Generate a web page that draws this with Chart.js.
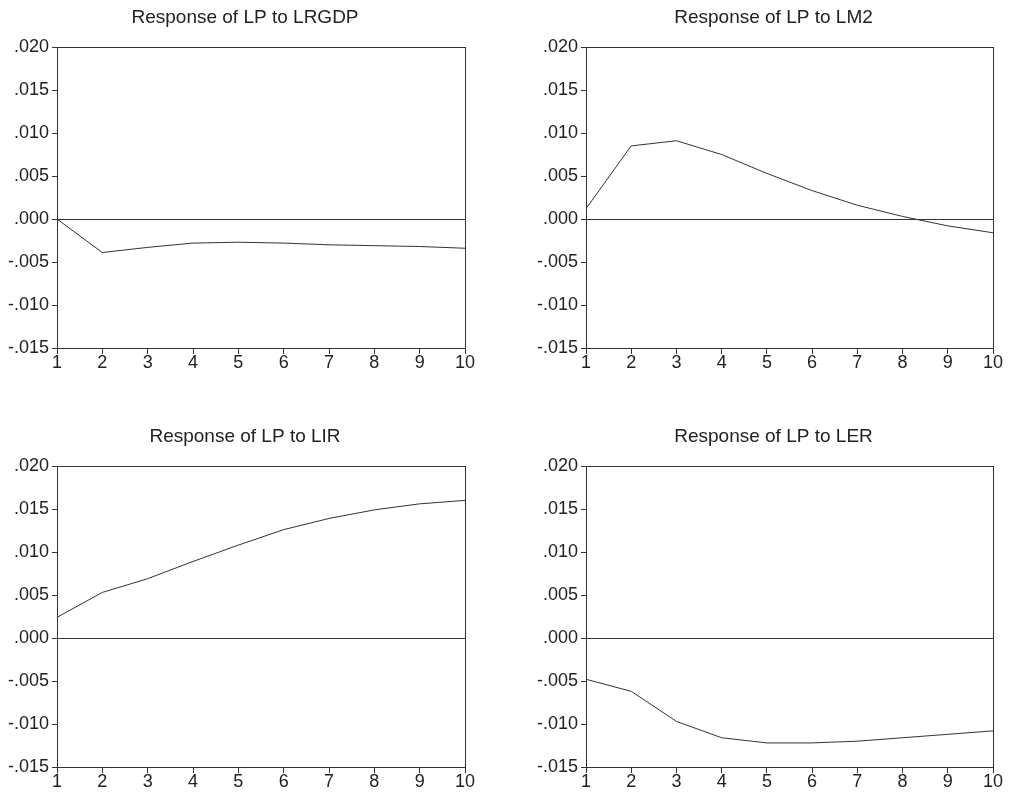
<!DOCTYPE html>
<html>
<head>
<meta charset="utf-8">
<script src="https://cdn.jsdelivr.net/npm/chart.js@4/dist/chart.umd.min.js"></script>
<style>
  html, body { margin: 0; padding: 0; background: #fff; overflow: hidden; }
  canvas { position: absolute; }
  #c1 { left: 0; top: 0; }
  #c2 { left: 529px; top: 0; }
  #c3 { left: 0; top: 419px; }
  #c4 { left: 529px; top: 419px; }
</style>
</head>
<body>
<canvas id="c1" width="488" height="374"></canvas>
<canvas id="c2" width="484" height="374"></canvas>
<canvas id="c3" width="488" height="374"></canvas>
<canvas id="c4" width="484" height="374"></canvas>
<script>
// periods of the impulse response
const periods = ['1', '2', '3', '4', '5', '6', '7', '8', '9', '10'];

// responses of LP
const toLRGDP = [0.0000, -0.0039, -0.0033, -0.0028, -0.0027, -0.0028, -0.0030, -0.0031, -0.0032, -0.0034];
const toLM2   = [0.0012, 0.0085, 0.0091, 0.0075, 0.0053, 0.0033, 0.0016, 0.0003, -0.0008, -0.0016];
const toLIR   = [0.0024, 0.0053, 0.0069, 0.0089, 0.0108, 0.0126, 0.0139, 0.0149, 0.0156, 0.0160];
const toLER   = [-0.0048, -0.0062, -0.0097, -0.0116, -0.0122, -0.0122, -0.0120, -0.0116, -0.0112, -0.0108];

const yTickValues = [0.020, 0.015, 0.010, 0.005, 0.000, -0.005, -0.010, -0.015];
const yTickLabels = ['.020', '.015', '.010', '.005', '.000', '-.005', '-.010', '-.015'];

const ink = '#333333';
const fontFamily = "'Liberation Sans', Arial, sans-serif";

// box around the plot area and the zero line
const framePlugin = {
  id: 'frame',
  afterDatasetsDraw(chart) {
    const ctx = chart.ctx;
    const a = chart.chartArea;
    const y0 = chart.scales.y.getPixelForValue(0);
    ctx.save();
    ctx.strokeStyle = ink;
    ctx.lineWidth = 1;
    ctx.beginPath();
    ctx.moveTo(a.left, Math.round(y0) + 0.5);
    ctx.lineTo(a.right, Math.round(y0) + 0.5);
    ctx.stroke();
    ctx.strokeRect(Math.round(a.left) + 0.5, Math.round(a.top) + 0.5,
                   Math.round(a.right - a.left), Math.round(a.bottom - a.top));
    ctx.restore();
  }
};

// panel title, sitting a little left of the plot's centre like the original
const panelTitle = {
  id: 'panelTitle',
  afterDraw(chart, args, opts) {
    const ctx = chart.ctx;
    const a = chart.chartArea;
    ctx.save();
    ctx.fillStyle = '#222';
    ctx.font = '19px ' + fontFamily;
    ctx.textAlign = 'center';
    ctx.textBaseline = 'middle';
    ctx.fillText(opts.text, (a.left + a.right) / 2 - 16, a.top - 29);
    ctx.restore();
  }
};

function makePanel(id, title, values, rightPad) {
  const el = document.getElementById(id).getContext('2d');
  return new Chart(el, {
    type: 'line',
    data: {
      labels: periods,
      datasets: [{
        data: values,
        borderColor: ink,
        borderWidth: 1,
        pointRadius: 0,
        tension: 0,
        fill: false
      }]
    },
    options: {
      responsive: false,
      animation: false,
      devicePixelRatio: 1,
      layout: { padding: { left: 0, right: rightPad, top: 47, bottom: 0 } },
      plugins: {
        legend: { display: false },
        tooltip: { enabled: false },
        title: { display: false },
        panelTitle: { text: title }
      },
      scales: {
        x: {
          type: 'category',
          offset: false,
          grid: { drawOnChartArea: false, drawTicks: true, tickLength: 6, color: ink },
          border: { display: true, color: ink },
          ticks: {
            color: '#222',
            autoSkip: false,
            maxRotation: 0,
            padding: -2,
            font: { family: fontFamily, size: 18 }
          },
          afterFit(scale) { scale.height = 26; }
        },
        y: {
          min: -0.015,
          max: 0.020,
          grid: { drawOnChartArea: false, drawTicks: true, tickLength: 5, color: ink },
          border: { display: true, color: ink },
          afterBuildTicks(scale) {
            scale.ticks = yTickValues.map(v => ({ value: v }));
          },
          ticks: {
            color: '#222',
            padding: 3,
            font: { family: fontFamily, size: 18 },
            callback: (v, i) => yTickLabels[i]
          },
          afterFit(scale) { scale.width = 57; }
        }
      }
    },
    plugins: [framePlugin, panelTitle]
  });
}

makePanel('c1', 'Response of LP to LRGDP', toLRGDP, 23);
makePanel('c2', 'Response of LP to LM2', toLM2, 20);
makePanel('c3', 'Response of LP to LIR', toLIR, 23);
makePanel('c4', 'Response of LP to LER', toLER, 20);
</script>
</body>
</html>
